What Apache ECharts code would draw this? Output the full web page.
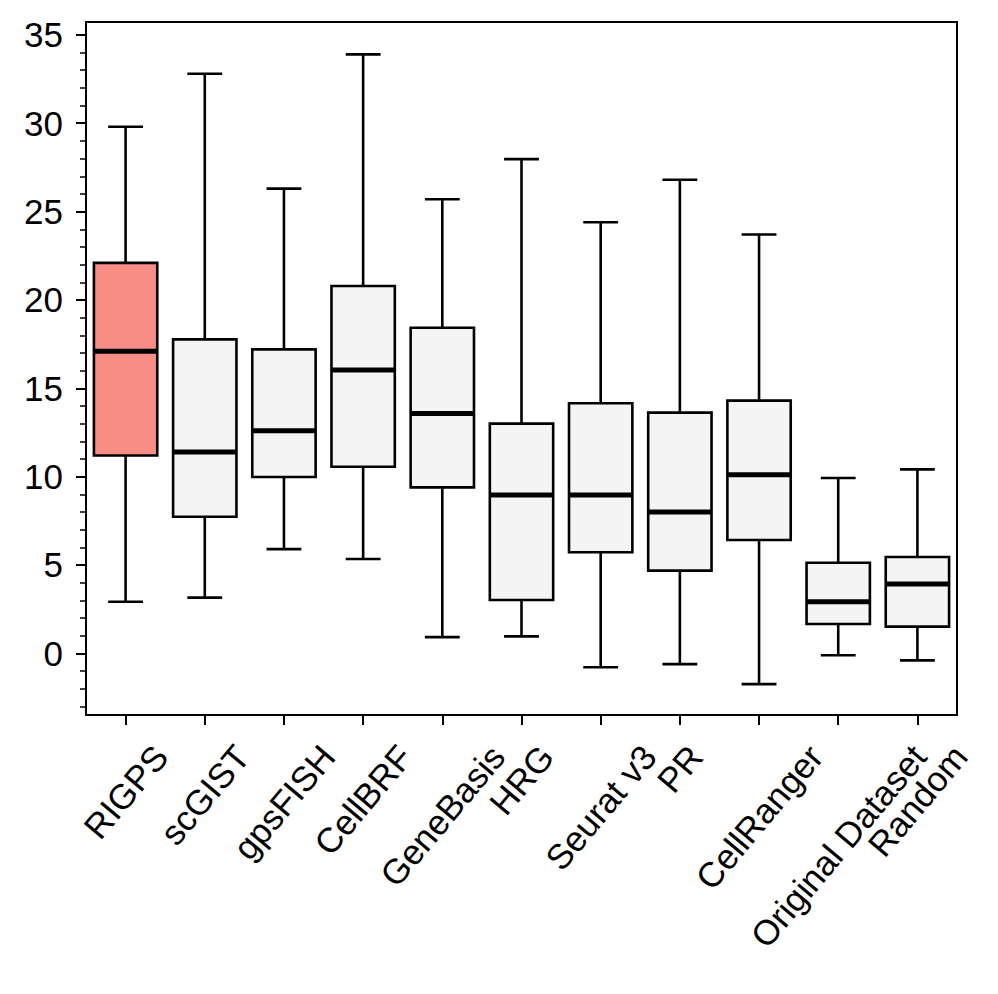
<!DOCTYPE html>
<html>
<head>
<meta charset="utf-8">
<script src="https://cdn.jsdelivr.net/npm/echarts@6/dist/echarts.min.js"></script>
<style>
html,body{margin:0;padding:0;background:#ffffff;}
#chart{width:998px;height:994px;}
</style>
</head>
<body>
<div id="chart"></div>
<script>
// ---- data ----
const categories = ['RIGPS','scGIST','gpsFISH','CellBRF','GeneBasis','HRG','Seurat v3','PR','CellRanger','Original Dataset','Random'];
const whiskerLow  = [2.92, 3.15, 5.9, 5.34, 0.92, 0.96, -0.79, -0.61, -1.74, -0.11, -0.4];
const quartile1   = [11.2, 7.73, 9.98, 10.56, 9.39, 3.02, 5.72, 4.68, 6.41, 1.66, 1.51];
const medians     = [17.1, 11.4, 12.6, 16.03, 13.58, 8.96, 8.96, 8.0, 10.11, 2.92, 3.92];
const quartile3   = [22.1, 17.77, 17.2, 20.79, 18.43, 13.0, 14.15, 13.62, 14.3, 5.13, 5.45];
const whiskerHigh = [29.8, 32.8, 26.3, 33.9, 25.7, 27.97, 24.4, 26.8, 23.7, 9.92, 10.41];
const yTickValues = [0, 5, 10, 15, 20, 25, 30, 35];
const yMinorTickValues = [-3,-2,-1,0,1,2,3,4,5,6,7,8,9,10,11,12,13,14,15,16,17,18,19,20,21,22,23,24,25,26,27,28,29,30,31,32,33,34,35];
const highlightCategory = 'RIGPS';
const yMin = -3.49, yMax = 35.73;

// ---- styling ----
const FONT = '"Liberation Sans", Arial, Helvetica, sans-serif';
const FONT_SIZE = 35;
const HIGHLIGHT_FILL = '#f88d86';
const BOX_FILL = '#f4f4f4';

const boxData = categories.map((c, i) => [i, whiskerLow[i], quartile1[i], medians[i], quartile3[i], whiskerHigh[i]]);

function renderBox(params, api) {
  const idx = api.value(0);
  const pLo = api.coord([idx, api.value(1)]);
  const pQ1 = api.coord([idx, api.value(2)]);
  const pMed = api.coord([idx, api.value(3)]);
  const pQ3 = api.coord([idx, api.value(4)]);
  const pHi = api.coord([idx, api.value(5)]);
  const band = api.size([1, 0])[0];
  const bw = band * 0.8;
  const cw = band * 0.44;
  const x = pMed[0];
  const fill = categories[idx] === highlightCategory ? HIGHLIGHT_FILL : BOX_FILL;
  const ls = { stroke: '#000', lineWidth: 2.6 };
  return {
    type: 'group',
    children: [
      { type: 'line', shape: { x1: x, y1: pQ3[1], x2: x, y2: pHi[1] }, style: ls },
      { type: 'line', shape: { x1: x, y1: pQ1[1], x2: x, y2: pLo[1] }, style: ls },
      { type: 'line', shape: { x1: x - cw / 2, y1: pHi[1], x2: x + cw / 2, y2: pHi[1] }, style: ls },
      { type: 'line', shape: { x1: x - cw / 2, y1: pLo[1], x2: x + cw / 2, y2: pLo[1] }, style: ls },
      { type: 'rect', shape: { x: x - bw / 2, y: pQ3[1], width: bw, height: pQ1[1] - pQ3[1] },
        style: { fill: fill, stroke: '#000', lineWidth: 2.6 } },
      { type: 'line', shape: { x1: x - bw / 2, y1: pMed[1], x2: x + bw / 2, y2: pMed[1] },
        style: { stroke: '#000', lineWidth: 5 } }
    ]
  };
}

const chart = echarts.init(document.getElementById('chart'), null, { renderer: 'svg' });
const option = {
  animation: false,
  backgroundColor: '#ffffff',
  grid: { left: 86, right: 41, top: 22, bottom: 279, show: true, borderColor: '#000', borderWidth: 2, backgroundColor: 'transparent' },
  xAxis: {
    type: 'category',
    data: categories,
    boundaryGap: true,
    axisLine: { show: true, onZero: false, lineStyle: { color: '#000', width: 2 } },
    axisTick: { show: true, interval: 0, alignWithLabel: true, length: 10, lineStyle: { color: '#000', width: 2 } },
    axisLabel: { show: false, interval: 0 },
    splitLine: { show: false }
  },
  yAxis: [
    {
      type: 'value', position: 'left', min: yMin, max: yMax,
      axisLine: { show: true, lineStyle: { color: '#000', width: 2 } },
      axisTick: { show: true, length: 10, customValues: yTickValues, lineStyle: { color: '#000', width: 2 } },
      axisLabel: { show: true, customValues: yTickValues, fontSize: FONT_SIZE, fontFamily: FONT, color: '#000', margin: 23 },
      splitLine: { show: false }
    },
    {
      type: 'value', position: 'left', min: yMin, max: yMax,
      axisLine: { show: false },
      axisTick: { show: true, length: 6, customValues: yMinorTickValues, lineStyle: { color: '#000', width: 1.5 } },
      axisLabel: { show: false },
      splitLine: { show: false }
    }
  ],
  series: [{
    type: 'custom',
    renderItem: renderBox,
    data: boxData,
    encode: { x: 0, y: [1, 2, 3, 4, 5] },
    z: 3
  }]
};
chart.setOption(option);

// rotated category labels: bbox centred on the tick, top just below the axis
const ctx = document.createElement('canvas').getContext('2d');
ctx.font = FONT_SIZE + 'px ' + FONT;
const ang = 50 * Math.PI / 180;
const axisY = chart.convertToPixel({ yAxisIndex: 0 }, yMin);
const labelGraphics = categories.map((c, i) => {
  const px = chart.convertToPixel({ xAxisIndex: 0 }, i);
  const L = ctx.measureText(c).width;
  return {
    type: 'text',
    x: px,
    y: axisY + 35 + L * Math.sin(ang) / 2,
    rotation: ang,
    silent: true,
    style: { text: c, fontSize: FONT_SIZE, fontFamily: FONT, fill: '#000', align: 'center', verticalAlign: 'middle' }
  };
});
chart.setOption({ graphic: labelGraphics });
</script>
</body>
</html>
